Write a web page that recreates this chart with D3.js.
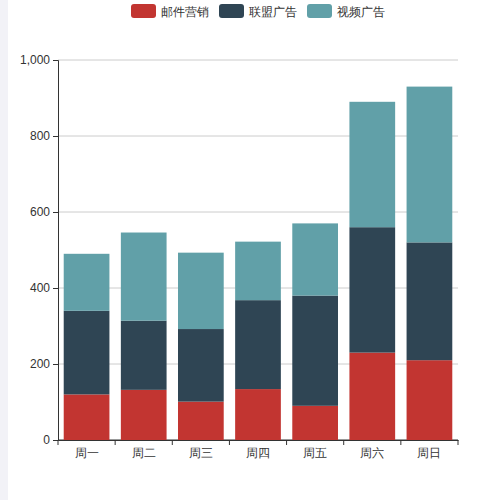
<!DOCTYPE html>
<html><head><meta charset="utf-8">
<script src="https://cdn.jsdelivr.net/npm/d3@7/dist/d3.min.js"></script>
<style>body{margin:0;background:#fff}</style></head>
<body><svg id="c" width="500" height="500"></svg>
<script>
const categories=["周一","周二","周三","周四","周五","周六","周日"];
const seriesNames=["邮件营销","联盟广告","视频广告"];
const mail=[120,132,101,134,90,230,210];
const union=[220,182,191,234,290,330,310];
const video=[150,232,201,154,190,330,410];
const yTicks=[0,200,400,600,800,1000];
const colors=["#c23531","#2f4554","#61a0a8"];
const svg=d3.select("#c");
svg.append("rect").attr("x",0).attr("y",0).attr("width",8).attr("height",500).attr("fill","#f2f2f7");
const L=58,R=458,T=60,B=440;
const x=d3.scaleBand().domain(categories).range([L,R]).paddingInner(0.2).paddingOuter(0.1);
const y=d3.scaleLinear().domain([0,1000]).range([B,T]);
const g=svg.append("g");
yTicks.forEach(t=>{g.append("line").attr("x1",L).attr("x2",R).attr("y1",y(t)).attr("y2",y(t)).attr("stroke",t===0?"#333":"#ccc");});
const data=[mail,union,video];
categories.forEach((c,i)=>{let acc=0;data.forEach((s,k)=>{
 g.append("rect").attr("x",x(c)).attr("width",x.bandwidth()).attr("y",y(acc+s[i])).attr("height",y(acc)-y(acc+s[i])).attr("fill",colors[k]);
 acc+=s[i];});});
const ya=svg.append("g").attr("transform",`translate(${L},0)`).call(d3.axisLeft(y).tickValues(yTicks).tickFormat(d3.format(",")).tickSize(5));
ya.selectAll("text").attr("fill","#333").style("font-size","12px").style("font-family","sans-serif");
ya.selectAll("line,path").attr("stroke","#333");
const xb=d3.scaleBand().domain(categories).range([L,R]);
const xa=svg.append("g").attr("transform",`translate(0,${B})`).call(d3.axisBottom(xb).tickSize(5).tickSizeOuter(0));
xa.selectAll(".tick line").attr("transform",`translate(${-xb.bandwidth()/2},0)`);
xa.append("line").attr("x1",R).attr("x2",R).attr("y1",0).attr("y2",5).attr("stroke","#333");
xa.selectAll("text").attr("fill","#333").style("font-size","12px").style("font-family","sans-serif");
xa.selectAll("line,path").attr("stroke","#333");
const lx=[131,219,307];
seriesNames.forEach((n,k)=>{
 svg.append("rect").attr("x",lx[k]).attr("y",4).attr("width",25).attr("height",14).attr("rx",3).attr("fill",colors[k]);
 svg.append("text").attr("x",lx[k]+30).attr("y",15.5).text(n).attr("fill","#333").style("font-size","12px").style("font-family","sans-serif");
});
</script></body></html>
